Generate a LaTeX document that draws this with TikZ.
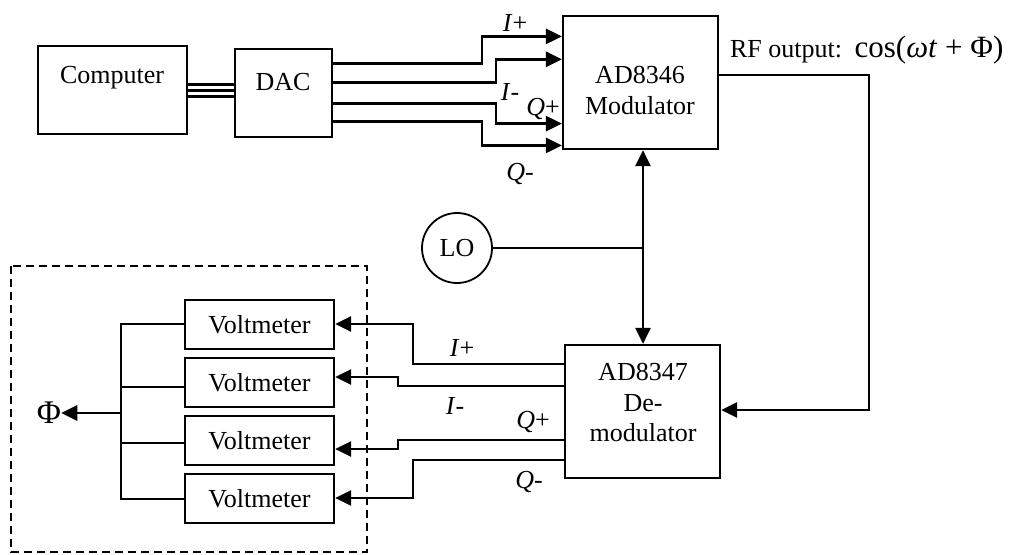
\documentclass[tikz,border=0pt]{standalone}
\usepackage{fontspec}
\setmainfont{Liberation Serif}
\usetikzlibrary{arrows.meta,calc}
\begin{document}
\begin{tikzpicture}[x=1pt,y=-1pt,
 box/.style={draw,line width=2.2pt,inner sep=0pt},
 wire/.style={line width=2.7pt},
 arr/.style={wire,-{Triangle[length=16pt,width=15pt]}},
 darr/.style={wire,{Triangle[length=16pt,width=15pt]}-{Triangle[length=16pt,width=15pt]}},
 txt/.style={font=\fontsize{26}{30}\selectfont,inner sep=0pt},
 lbl/.style={font=\fontsize{26}{30}\selectfont\itshape,inner sep=0pt}]
\useasboundingbox (0,0) rectangle (1014,554);

% boxes
\node[box,minimum width=149pt,minimum height=88pt] (comp) at (112.5,90) {};
\node[txt] (compt) at (112,78) {Computer};
\node[box,minimum width=97pt,minimum height=88pt] (dac) at (283.5,93) {};
\node[txt] (dact) at (283,82) {DAC};
\node[box,minimum width=155pt,minimum height=133pt] (mod) at (640.5,82.5) {};
\node[txt] (modt1) at (640,75) {AD8346};
\node[txt] (modt2) at (640,106) {Modulator};
\node[box,minimum width=155pt,minimum height=133pt] (dem) at (642.5,411.5) {};
\node[txt] (demt1) at (643,372) {AD8347};
\node[txt] (demt2) at (643,403) {De-};
\node[txt] (demt3) at (643,433) {modulator};
\node[draw,line width=1.8pt,circle,minimum size=70pt,txt] (lo) at (457,248) {LO};

\node[box,txt,minimum width=149pt,minimum height=49pt] (v1) at (259.5,324.5) {Voltmeter};
\node[box,txt,minimum width=149pt,minimum height=49pt] (v2) at (259.5,382.5) {Voltmeter};
\node[box,txt,minimum width=149pt,minimum height=49pt] (v3) at (259.5,440.5) {Voltmeter};
\node[box,txt,minimum width=149pt,minimum height=49pt] (v4) at (259.5,498.5) {Voltmeter};

\draw[line width=2pt,dash pattern=on 8pt off 5pt] (11,266) rectangle (367,552);

% computer - DAC bus
\foreach \yy in {84.5,90.5,96.5}
  \draw[line width=3pt] (comp.east |- 0,\yy) -- (dac.west |- 0,\yy);

% DAC to modulator
\draw[arr] (dac.east |- 0,63.5) -| (482,36.4) -- (mod.west |- 0,36.4);
\draw[arr] (dac.east |- 0,82.3) -| (496,59.3) -- (mod.west |- 0,59.3);
\draw[arr] (dac.east |- 0,103.3) -| (496,123.6) -- (mod.west |- 0,123.6);
\draw[arr] (dac.east |- 0,121.7) -| (482,145.4) -- (mod.west |- 0,145.4);
\node[lbl] (ip1) at (515,23) {I\textup{+}};
\node[lbl] (im1) at (510,92) {I\textup{-}};
\node[lbl] (qp1) at (543,109) {Q\textup{+}};
\node[lbl] (qm1) at (520,174) {Q\textup{-}};

% RF output
\node[txt] (rft) at (786,52) {RF output:};
\node[font=\fontsize{31}{36}\selectfont,inner sep=0pt] (rfm) at (929,50) {cos(\textit{ωt} + Φ)};
\draw[arr] (mod.east |- 0,75) -| (869,410) -- (dem.east |- 0,410);

% LO
\coordinate (lj) at (643,248);
\draw[wire,line width=2pt] (lo.east) -- (lj);
\draw[darr] (mod.south -| 643,0) -- (dem.north -| 643,0);

% demodulator to voltmeters
\draw[arr] (dem.west |- 0,364) -| (413,324) -- (v1.east |- 0,324);
\draw[arr] (dem.west |- 0,386) -| (398,377) -- (v2.east |- 0,377);
\draw[arr] (dem.west |- 0,440) -| (398,449) -- (v3.east |- 0,449);
\draw[arr] (dem.west |- 0,460) -| (413,498) -- (v4.east |- 0,498);
\node[lbl] (ip2) at (462,348) {I\textup{+}};
\node[lbl] (im2) at (455,406) {I\textup{-}};
\node[lbl] (qp2) at (533,422) {Q\textup{+}};
\node[lbl] (qm2) at (529,482) {Q\textup{-}};

% summing bus
\draw[wire] (v1.west |- 0,324) -| (121,499) -- (v4.west |- 0,499);
\draw[wire] (121,387) -- (v2.west |- 0,387);
\draw[wire] (121,443) -- (v3.west |- 0,443);
\node[font=\fontsize{33}{36}\selectfont,inner sep=0pt] (phi) at (49,413) {Φ};
\draw[arr] (121,413) -- (phi.east);
\end{tikzpicture}
\end{document}
